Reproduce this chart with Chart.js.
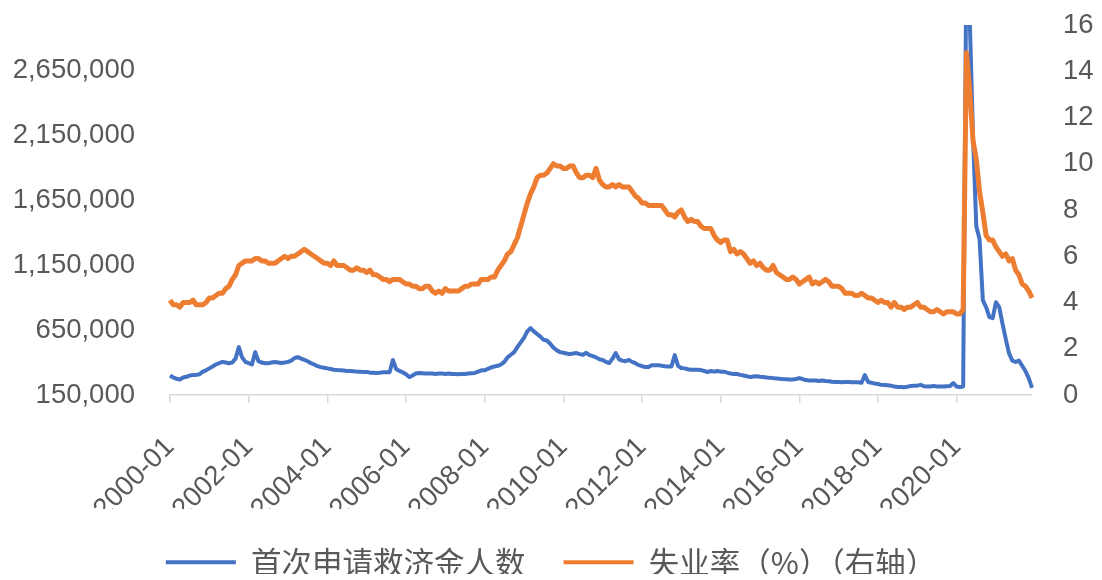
<!DOCTYPE html>
<html>
<head>
<meta charset="utf-8">
<script src="https://cdn.jsdelivr.net/npm/chart.js@4.4.1/dist/chart.umd.min.js"></script>
<style>
  html, body { margin: 0; padding: 0; background: #fff; }
  #wrap { width: 1102px; height: 580px; position: relative; }
</style>
</head>
<body>
<div id="wrap"><canvas id="chart"></canvas></div>
<script>
// Monthly categories, 2000-01 .. 2021-12
const months = [];
for (let y = 2000; y <= 2021; y++) {
  for (let m = 1; m <= 12; m++) months.push(y + '-' + String(m).padStart(2, '0'));
}

// Initial jobless claims (persons), one value per month
const initialClaims = [
  // 2000
  300000, 285000, 275000, 270000, 285000, 290000, 300000, 305000, 305000, 310000, 330000, 340000,
  // 2001
  355000, 370000, 385000, 396000, 405000, 400000, 395000, 400000, 430000, 519000, 440000, 405000,
  // 2002
  395000, 385000, 480000, 410000, 400000, 395000, 395000, 400000, 404000, 400000, 396000, 400000,
  // 2003
  405000, 415000, 435000, 442000, 430000, 420000, 410000, 395000, 385000, 372000, 365000, 360000,
  // 2004
  355000, 350000, 345000, 342000, 340000, 338000, 335000, 335000, 333000, 330000, 330000, 328000,
  // 2005
  328000, 322000, 322000, 320000, 322000, 325000, 325000, 325000, 420000, 350000, 335000, 325000,
  // 2006
  310000, 288000, 300000, 315000, 320000, 318000, 316000, 315000, 315000, 312000, 315000, 315000,
  // 2007
  312000, 315000, 312000, 312000, 310000, 312000, 312000, 315000, 318000, 320000, 330000, 340000,
  // 2008
  340000, 352000, 362000, 370000, 375000, 385000, 405000, 440000, 460000, 480000, 520000, 555000,
  // 2009
  590000, 640000, 665000, 640000, 620000, 600000, 575000, 570000, 545000, 515000, 495000, 480000,
  // 2010
  475000, 470000, 465000, 470000, 473000, 465000, 460000, 475000, 457000, 450000, 440000, 425000,
  // 2011
  420000, 405000, 396000, 430000, 473000, 425000, 415000, 410000, 420000, 405000, 395000, 380000,
  // 2012
  373000, 365000, 365000, 380000, 380000, 380000, 375000, 372000, 370000, 370000, 457000, 375000,
  // 2013
  358000, 355000, 348000, 345000, 345000, 345000, 342000, 335000, 327000, 335000, 330000, 335000,
  // 2014
  330000, 330000, 322000, 315000, 312000, 312000, 305000, 300000, 295000, 288000, 292000, 295000,
  // 2015
  290000, 288000, 285000, 282000, 280000, 278000, 275000, 273000, 272000, 270000, 270000, 273000,
  // 2016
  280000, 273000, 265000, 262000, 262000, 262000, 258000, 262000, 258000, 256000, 252000, 250000,
  // 2017
  250000, 248000, 250000, 250000, 248000, 248000, 248000, 245000, 304000, 250000, 245000, 238000,
  // 2018
  235000, 228000, 227000, 225000, 222000, 215000, 212000, 212000, 210000, 213000, 220000, 222000,
  // 2019
  222000, 228000, 218000, 215000, 215000, 220000, 215000, 215000, 215000, 218000, 220000, 242000,
  // 2020 (April and May run above the top of the axis)
  215000, 212000, 215000, 3600000, 3050000, 2150000, 1450000, 1350000, 880000, 827000, 750000, 742000,
  // 2021
  865000, 827000, 700000, 580000, 470000, 415000, 404000, 415000, 375000, 335000, 280000, 205000
];

// Unemployment rate (%), one value per month
const unemploymentRate = [
  // 2000
  4.1, 3.9, 3.9, 3.8, 4.0, 4.0, 4.0, 4.1, 3.9, 3.9, 3.9, 4.0,
  // 2001
  4.2, 4.2, 4.3, 4.4, 4.4, 4.6, 4.7, 5.0, 5.2, 5.6, 5.7, 5.8,
  // 2002
  5.8, 5.8, 5.9, 5.9, 5.8, 5.8, 5.7, 5.7, 5.7, 5.8, 5.9, 6.0,
  // 2003
  5.9, 6.0, 6.0, 6.1, 6.2, 6.3, 6.2, 6.1, 6.0, 5.9, 5.8, 5.7,
  // 2004
  5.7, 5.6, 5.8, 5.6, 5.6, 5.6, 5.5, 5.4, 5.4, 5.5, 5.4, 5.4,
  // 2005
  5.3, 5.4, 5.2, 5.2, 5.1, 5.0, 5.0, 4.9, 5.0, 5.0, 5.0, 4.9,
  // 2006
  4.8, 4.8, 4.7, 4.7, 4.6, 4.6, 4.7, 4.7, 4.5, 4.4, 4.5, 4.4,
  // 2007
  4.6, 4.5, 4.5, 4.5, 4.5, 4.6, 4.7, 4.7, 4.8, 4.8, 4.8, 5.0,
  // 2008
  5.0, 5.0, 5.1, 5.1, 5.4, 5.6, 5.8, 6.1, 6.2, 6.5, 6.8, 7.3,
  // 2009
  7.8, 8.3, 8.7, 9.0, 9.4, 9.5, 9.5, 9.6, 9.8, 10.0, 9.9, 9.9,
  // 2010
  9.8, 9.8, 9.9, 9.9, 9.6, 9.4, 9.4, 9.5, 9.5, 9.4, 9.8, 9.3,
  // 2011
  9.1, 9.0, 9.0, 9.1, 9.0, 9.1, 9.0, 9.0, 9.0, 8.8, 8.6, 8.5,
  // 2012
  8.3, 8.3, 8.2, 8.2, 8.2, 8.2, 8.2, 8.0, 7.8, 7.8, 7.7, 7.9,
  // 2013
  8.0, 7.7, 7.5, 7.6, 7.5, 7.5, 7.3, 7.2, 7.2, 7.2, 6.9, 6.7,
  // 2014
  6.6, 6.7, 6.7, 6.2, 6.3, 6.1, 6.2, 6.1, 5.9, 5.7, 5.8, 5.6,
  // 2015
  5.7, 5.5, 5.4, 5.4, 5.6, 5.3, 5.2, 5.1, 5.0, 5.0, 5.1, 5.0,
  // 2016
  4.8, 4.9, 5.0, 5.1, 4.8, 4.9, 4.8, 4.9, 5.0, 4.9, 4.7, 4.7,
  // 2017
  4.7, 4.6, 4.4, 4.4, 4.4, 4.3, 4.3, 4.4, 4.3, 4.2, 4.2, 4.1,
  // 2018
  4.0, 4.1, 4.0, 4.0, 3.8, 4.0, 3.8, 3.8, 3.7, 3.8, 3.8, 3.9,
  // 2019
  4.0, 3.8, 3.8, 3.7, 3.6, 3.6, 3.7, 3.6, 3.5, 3.6, 3.6, 3.6,
  // 2020
  3.5, 3.5, 3.7, 14.8, 13.2, 11.0, 10.2, 8.8, 7.9, 6.9, 6.7, 6.7,
  // 2021
  6.4, 6.2, 6.0, 6.1, 5.8, 5.9, 5.4, 5.2, 4.8, 4.7, 4.5, 4.2
];

const xTickLabels = ['2000-01', '2002-01', '2004-01', '2006-01', '2008-01', '2010-01',
                     '2012-01', '2014-01', '2016-01', '2018-01', '2020-01'];
const leftTicks = [150000, 650000, 1150000, 1650000, 2150000, 2650000];
const rightTicks = [0, 2, 4, 6, 8, 10, 12, 14, 16];
const seriesNames = ['首次申请救济金人数', '失业率（%）（右轴）'];
const seriesColors = ['#4472C4', '#ED7D31'];

const tickFont = { family: '"Liberation Sans", Arial, sans-serif', size: 27.5 };
const tickColor = '#595959';
const hidden = 'rgba(0,0,0,0)';

new Chart(document.getElementById('chart'), {
  type: 'line',
  data: {
    labels: months,
    datasets: [
      {
        label: seriesNames[0],
        data: initialClaims,
        yAxisID: 'yLeft',
        borderColor: seriesColors[0],
        backgroundColor: seriesColors[0],
        borderWidth: 4,
        pointRadius: 0,
        tension: 0,
        borderJoinStyle: 'round',
        order: 2
      },
      {
        label: seriesNames[1],
        data: unemploymentRate,
        yAxisID: 'yRight',
        borderColor: seriesColors[1],
        backgroundColor: seriesColors[1],
        borderWidth: 5,
        pointRadius: 0,
        tension: 0,
        borderJoinStyle: 'round',
        order: 1
      }
    ]
  },
  options: {
    responsive: true,
    maintainAspectRatio: false,
    animation: false,
    layout: { padding: { top: 25, left: 0, right: 0, bottom: 6 } },
    plugins: {
      tooltip: { enabled: false },
      legend: {
        position: 'bottom',
        maxHeight: 65,
        labels: {
          boxWidth: 70,
          boxHeight: 4,
          padding: 38,
          color: tickColor,
          font: { family: '"Noto Sans CJK SC", sans-serif', size: 30.5 },
          generateLabels: chart => chart.data.datasets.map((ds, i) => ({
            text: ds.label,
            fillStyle: ds.borderColor,
            strokeStyle: ds.borderColor,
            lineWidth: 0,
            hidden: false,
            datasetIndex: i,
            fontColor: tickColor
          }))
        }
      }
    },
    scales: {
      x: {
        type: 'category',
        offset: false,
        grid: { display: true, drawOnChartArea: false, drawTicks: true, tickLength: 8, color: '#d9d9d9', lineWidth: 1.5 },
        border: { display: true, color: '#d9d9d9', width: 1.5 },
        ticks: { autoSkip: false, minRotation: 45, maxRotation: 45, padding: 28, color: tickColor, font: tickFont },
        afterBuildTicks: s => {
          s.ticks = s.ticks.filter(t => xTickLabels.includes(months[t.value]));
        },
        afterFit: s => { s.height = 114; }
      },
      yLeft: {
        type: 'linear',
        position: 'left',
        min: 150000,
        max: 3000000,
        grid: { display: true, drawOnChartArea: false, drawTicks: true, tickLength: 30, color: hidden },
        border: { display: false },
        ticks: {
          padding: 5,
          color: tickColor,
          font: tickFont,
          callback: v => v.toLocaleString('en-US')
        },
        afterBuildTicks: s => { s.ticks = leftTicks.map(v => ({ value: v })); },
        afterFit: s => { s.width = 170; }
      },
      yRight: {
        type: 'linear',
        position: 'right',
        min: 0,
        max: 16,
        grid: { display: true, drawOnChartArea: false, drawTicks: true, tickLength: 26, color: hidden },
        border: { display: false },
        ticks: { padding: 5, color: tickColor, font: tickFont },
        afterBuildTicks: s => { s.ticks = rightTicks.map(v => ({ value: v })); },
        afterFit: s => { s.width = 70; }
      }
    }
  }
});
</script>
</body>
</html>
